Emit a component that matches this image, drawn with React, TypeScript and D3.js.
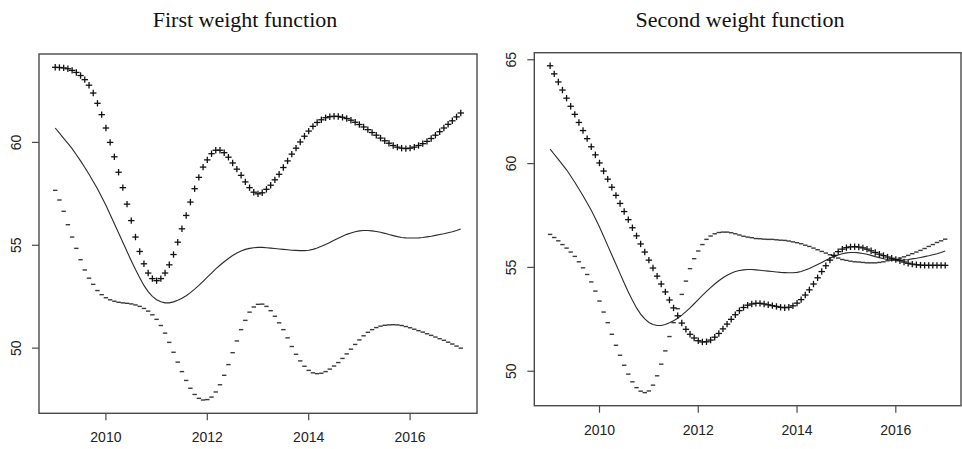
import React from 'react';
import * as d3 from 'd3';

// Monthly grid, Jan 2009 .. Jan 2017 (97 points)
const START_YEAR = 2009;
const N_POINTS = 97;
const years: number[] = d3.range(N_POINTS).map((i) => START_YEAR + i / 12);

const xTickValues = [2010, 2012, 2014, 2016];

// Solid curve (same in both panels)
const observed = [
  60.7, 60.45, 60.2, 59.95, 59.7, 59.4, 59.1, 58.78, 58.45, 58.1, 57.75, 57.35,
  56.95, 56.5, 56.05, 55.6, 55.15, 54.7, 54.25, 53.82, 53.42, 53.05, 52.75, 52.52,
  52.35, 52.25, 52.2, 52.2, 52.25, 52.33, 52.43, 52.55, 52.7, 52.87, 53.05, 53.25,
  53.45, 53.65, 53.85, 54.03, 54.2, 54.36, 54.5, 54.62, 54.72, 54.8, 54.85, 54.88,
  54.9, 54.9, 54.88, 54.86, 54.84, 54.82, 54.8, 54.78, 54.76, 54.75, 54.74, 54.74,
  54.76, 54.8, 54.87, 54.95, 55.04, 55.14, 55.24, 55.34, 55.44, 55.53, 55.6, 55.66,
  55.7, 55.72, 55.72, 55.7, 55.67, 55.63, 55.58, 55.52, 55.47, 55.42, 55.38, 55.36,
  55.35, 55.35, 55.36, 55.38, 55.41, 55.44, 55.48, 55.52, 55.56, 55.61, 55.66, 55.72,
  55.79,
];

// First weight function: "+" series
const firstPlus = [
  63.65, 63.64, 63.62, 63.58, 63.5, 63.4, 63.25, 63.05, 62.78, 62.4, 61.9, 61.35,
  60.7, 60.0, 59.3, 58.55, 57.8, 57.0, 56.2, 55.4, 54.7, 54.1, 53.65, 53.38,
  53.28, 53.38, 53.65, 54.05, 54.55, 55.15, 55.8, 56.45, 57.1, 57.75, 58.3, 58.8,
  59.15, 59.45, 59.62, 59.62, 59.5, 59.28, 59.0, 58.7, 58.4, 58.08, 57.8, 57.58,
  57.5, 57.55, 57.72, 57.92, 58.18, 58.45, 58.78, 59.1, 59.43, 59.72, 60.02, 60.3,
  60.55, 60.78, 60.97, 61.1, 61.2, 61.25, 61.27, 61.26, 61.22, 61.16, 61.08, 60.98,
  60.87, 60.75, 60.62, 60.48, 60.35, 60.21, 60.08, 59.96, 59.85, 59.77, 59.72, 59.7,
  59.72, 59.77, 59.85, 59.94, 60.05, 60.19, 60.35, 60.52, 60.7, 60.88, 61.05, 61.24,
  61.43,
];

// First weight function: "-" series
const firstDash = [
  57.67, 57.2, 56.65, 56.0, 55.4, 54.85, 54.3, 53.8, 53.4, 53.1, 52.8, 52.6,
  52.45, 52.35, 52.28, 52.23, 52.2, 52.18, 52.15, 52.1, 52.03, 51.93, 51.8, 51.62,
  51.4, 51.1, 50.73, 50.28, 49.8, 49.32, 48.86, 48.43, 48.05, 47.75, 47.56, 47.48,
  47.5, 47.62, 47.87, 48.22, 48.68, 49.2, 49.78, 50.35, 50.9, 51.35, 51.75, 52.0,
  52.13, 52.14, 52.03, 51.82, 51.55, 51.23, 50.9, 50.5, 50.08, 49.7, 49.38, 49.12,
  48.92, 48.8, 48.76, 48.78, 48.86, 48.98, 49.13, 49.3, 49.5, 49.72, 49.95, 50.18,
  50.4, 50.6, 50.77, 50.9, 51.0, 51.07, 51.11, 51.13, 51.14, 51.13, 51.1, 51.05,
  50.99, 50.92, 50.85, 50.78, 50.7, 50.62, 50.54, 50.46, 50.38, 50.29, 50.2, 50.1,
  50.0,
];

// Second weight function: "+" series
const secondPlus = [
  64.71, 64.32, 63.93, 63.54, 63.15, 62.76, 62.37, 61.98, 61.59, 61.2, 60.81, 60.42,
  60.03, 59.64, 59.25, 58.86, 58.47, 58.08, 57.69, 57.3, 56.91, 56.52, 56.13, 55.74,
  55.35, 54.97, 54.58, 54.2, 53.82, 53.43, 53.05, 52.67, 52.32, 52.02, 51.78, 51.6,
  51.47, 51.41, 51.42, 51.5, 51.64, 51.82, 52.04, 52.27, 52.5, 52.72, 52.92, 53.07,
  53.18, 53.24, 53.27, 53.27, 53.24, 53.2, 53.16, 53.12, 53.08, 53.06, 53.08, 53.15,
  53.28, 53.45, 53.67, 53.92, 54.2, 54.5, 54.8, 55.08, 55.35, 55.58, 55.76, 55.88,
  55.95, 55.99, 56.0, 55.98, 55.94, 55.88, 55.8, 55.72, 55.64, 55.57, 55.5, 55.44,
  55.38, 55.32, 55.26, 55.2, 55.16, 55.13, 55.11, 55.1, 55.1, 55.1, 55.1, 55.1,
  55.1,
];

// Second weight function: "-" series
const secondDash = [
  56.59, 56.44, 56.28, 56.1, 55.93, 55.74, 55.53, 55.27, 54.98, 54.66, 54.3, 53.86,
  53.38, 52.85, 52.34, 51.78, 51.25, 50.77, 50.29, 49.86, 49.49, 49.21, 49.04, 48.97,
  49.05, 49.33, 49.78, 50.34, 50.98, 51.67, 52.34, 53.01, 53.7, 54.34, 54.94, 55.42,
  55.79, 56.1, 56.35, 56.51, 56.62, 56.68, 56.7, 56.7, 56.67, 56.62, 56.56, 56.5,
  56.46, 56.43, 56.39, 56.38, 56.36, 56.35, 56.35, 56.33, 56.31, 56.3, 56.27, 56.23,
  56.19, 56.14, 56.07, 56.01, 55.93, 55.85, 55.77, 55.69, 55.61, 55.53, 55.45, 55.38,
  55.34, 55.3, 55.27, 55.26, 55.24, 55.22, 55.22, 55.22, 55.24, 55.27, 55.32, 55.35,
  55.38, 55.45, 55.51, 55.58, 55.66, 55.74, 55.82, 55.91, 56.01, 56.1, 56.2, 56.28,
  56.36,
];

const titles = ['First weight function', 'Second weight function'];
const yTickValues1 = [50, 55, 60];
const yTickValues2 = [50, 55, 60, 65];

interface PanelProps {
  title: string;
  titleX: number;
  x0: number;
  x1: number;
  y0: number;
  y1: number;
  yTicks: number[];
  plus: number[];
  solid: number[];
  dash: number[];
}

function padDomain(lo: number, hi: number): [number, number] {
  const p = (hi - lo) * 0.04;
  return [lo - p, hi + p];
}

function Panel({ title, titleX, x0, x1, y0, y1, yTicks, plus, solid, dash }: PanelProps) {
  const xExt = d3.extent(years) as [number, number];
  const all = [...plus, ...solid, ...dash];
  const yExt = d3.extent(all) as [number, number];
  const x = d3.scaleLinear().domain(padDomain(xExt[0], xExt[1])).range([x0, x1]);
  const y = d3.scaleLinear().domain(padDomain(yExt[0], yExt[1])).range([y1, y0]);

  const line = d3
    .line<number>()
    .x((_, i) => x(years[i]))
    .y((d) => y(d));

  const tick = 7;
  const fontAxis = '"Liberation Sans", Arial, sans-serif';

  return (
    <g>
      <text
        x={titleX}
        y={27}
        textAnchor="middle"
        fontFamily='"Liberation Serif", "Times New Roman", serif'
        fontSize={22}
        fill="#111"
      >
        {title}
      </text>
      <path d={line(solid) ?? ''} fill="none" stroke="#2a2a2a" strokeWidth={1.1} />
      {dash.map((d, i) => (
        <line
          key={'d' + i}
          x1={x(years[i]) - 2.2}
          x2={x(years[i]) + 2.2}
          y1={y(d)}
          y2={y(d)}
          stroke="#3a3a3a"
          strokeWidth={1.4}
        />
      ))}
      {plus.map((d, i) => (
        <g key={'p' + i} stroke="#111" strokeWidth={1.3}>
          <line x1={x(years[i]) - 3.2} x2={x(years[i]) + 3.2} y1={y(d)} y2={y(d)} />
          <line x1={x(years[i])} x2={x(years[i])} y1={y(d) - 3.2} y2={y(d) + 3.2} />
        </g>
      ))}
      <rect x={x0} y={y0} width={x1 - x0} height={y1 - y0} fill="none" stroke="#4a4a4a" strokeWidth={1.4} />
      {xTickValues.map((t) => (
        <g key={'xt' + t}>
          <line x1={x(t)} x2={x(t)} y1={y1} y2={y1 + tick} stroke="#4a4a4a" strokeWidth={1.2} />
          <text
            x={x(t)}
            y={y1 + 24}
            textAnchor="middle"
            dominantBaseline="central"
            fontFamily={fontAxis}
            fontSize={14}
            fill="#222"
          >
            {t}
          </text>
        </g>
      ))}
      {yTicks.map((t) => (
        <g key={'yt' + t}>
          <line x1={x0 - tick} x2={x0} y1={y(t)} y2={y(t)} stroke="#4a4a4a" strokeWidth={1.2} />
          <text
            transform={`translate(${x0 - 23},${y(t)}) rotate(-90)`}
            textAnchor="middle"
            dominantBaseline="central"
            fontFamily={fontAxis}
            fontSize={14}
            fill="#222"
          >
            {t}
          </text>
        </g>
      ))}
    </g>
  );
}

export default function App() {
  return (
    <svg
      width={962}
      height={449}
      style={{ position: 'absolute', left: 0, top: 0, background: '#fff' }}
    >
      <rect x={0} y={0} width={962} height={449} fill="#fff" />
      <Panel
        title={titles[0]}
        titleX={245}
        x0={39}
        x1={477}
        y0={54}
        y1={413.3}
        yTicks={yTickValues1}
        plus={firstPlus}
        solid={observed}
        dash={firstDash}
      />
      <Panel
        title={titles[1]}
        titleX={740}
        x0={534.3}
        x1={961}
        y0={52.7}
        y1={405.7}
        yTicks={yTickValues2}
        plus={secondPlus}
        solid={observed}
        dash={secondDash}
      />
    </svg>
  );
}
